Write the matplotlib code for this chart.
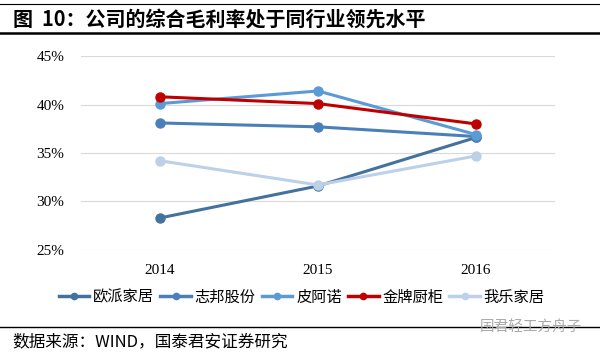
import matplotlib
matplotlib.use("Agg")
import matplotlib.pyplot as plt
from matplotlib.lines import Line2D

plt.rcParams['font.family'] = ['Noto Sans CJK SC', 'DejaVu Sans']

years = ['2014', '2015', '2016']
oupai = [28.3, 31.6, 36.6]
zhibang = [38.1, 37.7, 36.7]
piano = [40.1, 41.4, 36.9]
jinpai = [40.8, 40.1, 38.0]
wole = [34.2, 31.7, 34.7]

names = ['欧派家居', '志邦股份', '皮阿诺', '金牌厨柜', '我乐家居']
series = [oupai, zhibang, piano, jinpai, wole]
colors = ['#44729E', '#4A7FB8', '#5B9BD5', '#C00000', '#BCD0E8']
yticks = [25, 30, 35, 40, 45]

fig = plt.figure(figsize=(6, 3.55), dpi=100)
ax = fig.add_axes([0.135, 0.296, 0.79, 0.546])

x = list(range(len(years)))
order = [4, 0, 1, 2, 3]
for i in order:
    ax.plot(x, series[i], color=colors[i], lw=2.2, marker='o', ms=6.5,
            solid_capstyle='round', zorder=3 + i)

ax.set_xlim(-0.5, len(years) - 0.5)
ax.set_ylim(25, 45)
ax.set_yticks(yticks)
ax.set_yticklabels([f'{v}%' for v in yticks], family='Liberation Serif', fontsize=11)
ax.set_xticks(x)
ax.set_xticklabels(years, family='Liberation Serif', fontsize=11)
ax.grid(axis='y', color='#D9D9D9', lw=0.8)
ax.set_axisbelow(True)
for s in ax.spines.values():
    s.set_visible(False)
ax.tick_params(length=0, pad=10)
ax.tick_params(axis='y', pad=12)

handles = [Line2D([0], [0], color=colors[i], lw=2.5, marker='o', ms=4.5) for i in range(5)]
fig.legend(handles, names, loc='center', bbox_to_anchor=(0.503, 0.163), ncol=5,
           frameon=False, fontsize=11, handlelength=2.0, handletextpad=0.25,
           columnspacing=0.4)

# title and decoration lines
fig.add_artist(Line2D([0, 1], [1 - 4 / 355, 1 - 4 / 355], color='black', lw=0.8))
fig.add_artist(Line2D([0, 1], [1 - 33 / 355, 1 - 33 / 355], color='black', lw=1.8))
fig.text(0.022, 1 - 19 / 355, '图  10：公司的综合毛利率处于同行业领先水平', fontsize=14.4,
         fontweight='bold', va='center', ha='left')
fig.add_artist(Line2D([0, 1], [1 - 327 / 355, 1 - 327 / 355], color='black', lw=1.0))
fig.text(0.02, 1 - 342 / 355, '数据来源：WIND，国泰君安证券研究', fontsize=12,
         va='center', ha='left')
fig.text(0.80, 1 - 327 / 355, '国君轻工方舟子', fontsize=10.5, color='#AAAAAA',
         va='center', ha='left')

fig.savefig('out.png', dpi=100, facecolor='white')
